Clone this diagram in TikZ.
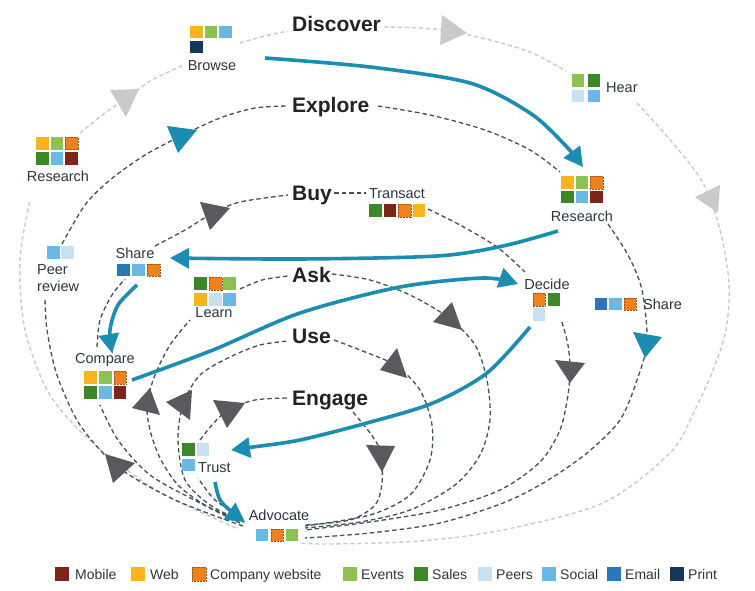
\documentclass[tikz,border=0pt]{standalone}
\usepackage{fontspec}
\setmainfont{Liberation Sans}
\usetikzlibrary{arrows.meta}
\definecolor{tealA}{RGB}{27,140,178}
\definecolor{darkArr}{RGB}{88,90,94}
\definecolor{dashDk}{RGB}{70,80,90}
\definecolor{lightG}{RGB}{202,202,202}
\definecolor{lblC}{RGB}{45,55,65}
\definecolor{bigC}{RGB}{35,35,35}
\definecolor{cMobile}{RGB}{122,38,24}
\definecolor{cWeb}{RGB}{250,180,30}
\definecolor{cCweb}{RGB}{240,130,30}
\definecolor{cEvents}{RGB}{140,195,80}
\definecolor{cSales}{RGB}{60,135,40}
\definecolor{cPeers}{RGB}{200,225,240}
\definecolor{cSocial}{RGB}{105,185,228}
\definecolor{cEmail}{RGB}{40,120,185}
\definecolor{cPrint}{RGB}{20,55,90}
\tikzset{
  sq/.style={minimum size=12.5pt,inner sep=0pt,outer sep=0pt,fill=#1},
  sqc/.style={sq=cCweb,draw=cCweb!65!black,densely dotted,line width=0.5pt},
  lsq/.style={minimum size=14pt,inner sep=0pt,outer sep=0pt,fill=#1},
  lsqc/.style={lsq=cCweb,draw=cCweb!65!black,densely dotted,line width=0.5pt},
  lbl/.style={inner sep=0pt,text=lblC,font=\fontsize{14.5}{16}\selectfont},
  big/.style={inner sep=0pt,text=bigC,font=\fontsize{21}{24}\selectfont\bfseries,anchor=base west},
  leg/.style={inner sep=0pt,text=lblC,font=\fontsize{14}{16}\selectfont,anchor=base west},
  lgdash/.style={draw=lightG,line width=1.4pt,dash pattern=on 4pt off 3pt},
  dkdash/.style={draw=dashDk,line width=1.3pt,dash pattern=on 4.5pt off 3pt},
  tealarrow/.style={draw=tealA,line width=3.6pt,-{Triangle[length=19pt,width=20pt]}},
  darktri/.style={fill=darkArr},
  lighttri/.style={fill=lightG},
  tealtri/.style={fill=tealA}
}
\begin{document}
\begin{tikzpicture}[x=1pt,y=-1pt]
\path[use as bounding box,fill=white] (0,0) rectangle (755,591);

% ---------- Discover loop (light grey) ----------
\draw[lgdash] plot[smooth] coordinates {(236,528) (160,492) (95,445) (50,395) (25,330) (20,260) (30,200)};
\draw[lgdash] plot[smooth] coordinates {(80,133) (105,113) (125,99) (152,80) (182,66)};
\draw[lgdash] plot[smooth] coordinates {(240,43) (265,36) (288,31)};
\draw[lgdash] plot[smooth] coordinates {(384,27) (420,28) (450,31) (490,40) (530,52) (566,71)};
\draw[lgdash] plot[smooth] coordinates {(637,103) (672,142) (703,183) (720,230) (729,283) (726,330) (713,370) (695,410) (670,453) (603,503) (503,530) (420,541) (330,544) (300,543)};

% ---------- Explore loop ----------
\draw[dkdash] plot[smooth] coordinates {(243,526) (175,500) (118,467) (80,425) (57,375) (47,330) (45,298)};
\draw[dkdash] plot[smooth] coordinates {(62,244) (85,205) (110,180) (145,155) (181,136) (220,118) (255,108) (288,106)};
\draw[dkdash] plot[smooth] coordinates {(378,106) (430,115) (485,130) (530,150) (560,172)};
\draw[dkdash] plot[smooth] coordinates {(608,224) (628,255) (642,290) (647,342) (637,380) (620,420) (587,453) (545,482) (503,503) (440,523) (370,533) (305,538)};

% ---------- Buy loop ----------
\draw[dkdash] plot[smooth] coordinates {(240,523) (200,503) (150,475) (118,440) (100,405)};
\draw[dkdash] plot[smooth] coordinates {(97,347) (100,320) (112,295) (125,279)};
\draw[dkdash] plot[smooth] coordinates {(155,246) (185,230) (213,213) (240,202) (288,195)};
\draw[dkdash] (334,193) -- (366,193);
\draw[dkdash] plot[smooth] coordinates {(428,209) (460,225) (497,247) (525,272)};
\draw[dkdash] plot[smooth] coordinates {(562,322) (568,345) (570,369) (568,395) (560,430) (540,462) (500,490) (440,510) (370,522) (305,530)};

% ---------- Ask loop ----------
\draw[dkdash] plot[smooth] coordinates {(240,521) (205,505) (178,485) (160,458) (150,430) (147,404) (155,375) (170,345) (190,320)};
\draw[dkdash] plot[smooth] coordinates {(240,289) (262,280) (288,276)};
\draw[dkdash] plot[smooth] coordinates {(332,274) (370,280) (410,295) (449,318) (475,345) (487,380) (490,420) (480,455) (455,485) (410,510) (360,522) (305,528)};

% ---------- Use loop ----------
\draw[dkdash] plot[smooth] coordinates {(240,520) (210,505) (185,480) (178,440) (183,404) (200,375) (230,357) (260,345) (288,341)};
\draw[dkdash] plot[smooth] coordinates {(334,340) (360,350) (395,365) (420,390) (432,425) (430,460) (410,495) (370,515) (305,526)};

% ---------- Engage loop ----------
\draw[dkdash] plot[smooth] coordinates {(242,518) (215,500) (198,478)};
\draw[dkdash] plot[smooth] coordinates {(200,440) (212,425) (228,410) (255,400) (288,398)};
\draw[dkdash] plot[smooth] coordinates {(353,412) (373,437) (381,454) (382,483) (375,505) (350,520) (305,525)};

% ---------- triangles on the loops ----------
\fill[lighttri] (110,90) -- (139,89) -- (126,117) -- cycle;
\fill[lighttri] (442,15) -- (467,33) -- (440,45) -- cycle;
\fill[lighttri] (695,197) -- (720,185) -- (718,213) -- cycle;
\fill[tealtri] (167,126) -- (197,130) -- (178,153) -- cycle;
\fill[tealtri] (633,332) -- (662,337) -- (645,358) -- cycle;
\fill[darktri] (105,454) -- (135,463) -- (113,483) -- cycle;
\fill[darktri] (200,202) -- (230,208) -- (210,230) -- cycle;
\fill[darktri] (555,360) -- (585,363) -- (570,383) -- cycle;
\fill[darktri] (132,408) -- (150,388) -- (160,415) -- cycle;
\fill[darktri] (452,302) -- (433,322) -- (462,330) -- cycle;
\fill[darktri] (166,402) -- (192,390) -- (190,420) -- cycle;
\fill[darktri] (397,348) -- (380,370) -- (407,378) -- cycle;
\fill[darktri] (213,400) -- (245,403) -- (227,428) -- cycle;
\fill[darktri] (366,445) -- (395,446) -- (382,472) -- cycle;

% ---------- teal journey arrows ----------
\coordinate (t1s) at (265,58);   \coordinate (t1e) at (583,167);
\coordinate (t2s) at (558,231);  \coordinate (t2e) at (170,258);
\coordinate (t3s) at (137,285);  \coordinate (t3e) at (112,353);
\coordinate (t4s) at (132,380);  \coordinate (t4e) at (518,284);
\coordinate (t5s) at (530,327);  \coordinate (t5e) at (231,450);
\coordinate (t6s) at (215,482);  \coordinate (t6e) at (245,522);
\draw[tealarrow] plot[smooth] coordinates {(t1s) (370,67) (470,83) (530,113) (565,145) (t1e)};
\draw[tealarrow] plot[smooth] coordinates {(t2s) (503,246) (437,256) (300,259) (t2e)};
\draw[tealarrow] plot[smooth] coordinates {(t3s) (118,305) (110,330) (t3e)};
\draw[tealarrow] plot[smooth] coordinates {(t4s) (213,350) (300,313) (400,287) (483,278) (t4e)};
\draw[tealarrow] plot[smooth] coordinates {(t5s) (487,373) (433,403) (367,423) (300,440) (253,447) (t5e)};
\draw[tealarrow] plot[smooth] coordinates {(t6s) (220,500) (233,513) (t6e)};

% ---------- icons ----------
\node[sq=cWeb] (br1) at (196.5,32) {};
\node[sq=cEvents] (br2) at (211,32) {};
\node[sq=cSocial] (br3) at (225.5,32) {};
\node[sq=cPrint] (br4) at (196.5,47) {};
\node[sq=cWeb] (rl1) at (42.5,143.5) {};
\node[sq=cEvents] (rl2) at (57,143.5) {};
\node[sqc] (rl3) at (71.5,143.5) {};
\node[sq=cSales] (rl4) at (42.5,158.5) {};
\node[sq=cSocial] (rl5) at (57,158.5) {};
\node[sq=cMobile] (rl6) at (71.5,158.5) {};
\node[sq=cEvents] (he1) at (578,80.5) {};
\node[sq=cSales] (he2) at (594,80.5) {};
\node[sq=cPeers] (he3) at (578,96) {};
\node[sq=cSocial] (he4) at (594,96) {};
\node[sq=cWeb] (rr1) at (567.5,182.5) {};
\node[sq=cEvents] (rr2) at (582,182.5) {};
\node[sqc] (rr3) at (596.5,182.5) {};
\node[sq=cSales] (rr4) at (567.5,197) {};
\node[sq=cSocial] (rr5) at (582,197) {};
\node[sq=cMobile] (rr6) at (596.5,197) {};
\node[sq=cSales] (tr1) at (375.5,210.5) {};
\node[sq=cMobile] (tr2) at (390,210.5) {};
\node[sqc] (tr3) at (404.5,210.5) {};
\node[sq=cWeb] (tr4) at (419,210.5) {};
\node[sqc] (de1) at (539,299.5) {};
\node[sq=cSales] (de2) at (554,299.5) {};
\node[sq=cPeers] (de3) at (539,314.5) {};
\node[sq=cEmail] (sr1) at (601,304) {};
\node[sq=cSocial] (sr2) at (615.5,304) {};
\node[sqc] (sr3) at (630,304) {};
\node[sq=cSocial] (pr1) at (53.5,252.5) {};
\node[sq=cPeers] (pr2) at (67.5,252.5) {};
\node[sq=cEmail] (sl1) at (123.5,270) {};
\node[sq=cSocial] (sl2) at (138.5,270) {};
\node[sqc] (sl3) at (153.5,270) {};
\node[sq=cSales] (le1) at (200.5,283.5) {};
\node[sqc] (le2) at (215.5,283.5) {};
\node[sq=cEvents] (le3) at (229.5,283.5) {};
\node[sq=cWeb] (le4) at (200.5,299.5) {};
\node[sq=cPeers] (le5) at (215.5,299.5) {};
\node[sq=cSocial] (le6) at (229.5,299.5) {};
\node[sq=cWeb] (co1) at (90.5,377.5) {};
\node[sq=cEvents] (co2) at (105.5,377.5) {};
\node[sqc] (co3) at (120,377.5) {};
\node[sq=cSales] (co4) at (90.5,392.5) {};
\node[sq=cSocial] (co5) at (105.5,392.5) {};
\node[sq=cMobile] (co6) at (120,392.5) {};
\node[sq=cSales] (tu1) at (188.5,449.5) {};
\node[sq=cPeers] (tu2) at (203,449.5) {};
\node[sq=cSocial] (tu3) at (188.5,465) {};
\node[sq=cSocial] (ad1) at (262,535) {};
\node[sqc] (ad2) at (277,535) {};
\node[sq=cEvents] (ad3) at (292,535) {};

% ---------- small labels ----------
\node[lbl,anchor=base] (lBrowse) at (212,71) {Browse};
\node[lbl,anchor=base] (lResL) at (58,182) {Research};
\node[lbl,anchor=base west] (lHear) at (606,93) {Hear};
\node[lbl,anchor=base] (lResR) at (582,221) {Research};
\node[lbl,anchor=base] (lTrans) at (397,198) {Transact};
\node[lbl,anchor=base] (lDecide) at (547,289) {Decide};
\node[lbl,anchor=base west] (lShareR) at (643,309) {Share};
\node[lbl,anchor=base west] (lPeer) at (37,274) {Peer};
\node[lbl,anchor=base west] (lReview) at (37,291) {review};
\node[lbl,anchor=base] (lShareL) at (135,258) {Share};
\node[lbl,anchor=base] (lLearn) at (214,317) {Learn};
\node[lbl,anchor=base] (lCompare) at (105,363) {Compare};
\node[lbl,anchor=base west] (lTrust) at (198,472) {Trust};
\node[lbl,anchor=base] (lAdv) at (279,520) {Advocate};

% ---------- big labels ----------
\node[big] (bDiscover) at (292,32) {Discover};
\node[big] (bExplore) at (292,113) {Explore};
\node[big] (bBuy) at (292,200) {Buy};
\node[big] (bAsk) at (292,282) {Ask};
\node[big] (bUse) at (292,343) {Use};
\node[big] (bEngage) at (292,405) {Engage};

% ---------- legend ----------
\node[lsq=cMobile] (g1) at (62,574) {};
\node[leg] (g1t) at (75,579) {Mobile};
\node[lsq=cWeb] (g2) at (138,574) {};
\node[leg] (g2t) at (150,579) {Web};
\node[lsqc] (g3) at (199,574) {};
\node[leg] (g3t) at (210,579) {Company website};
\node[lsq=cEvents] (g4) at (350,574) {};
\node[leg] (g4t) at (361,579) {Events};
\node[lsq=cSales] (g5) at (421,574) {};
\node[leg] (g5t) at (432,579) {Sales};
\node[lsq=cPeers] (g6) at (485,574) {};
\node[leg] (g6t) at (496,579) {Peers};
\node[lsq=cSocial] (g7) at (549,574) {};
\node[leg] (g7t) at (560,579) {Social};
\node[lsq=cEmail] (g8) at (614,574) {};
\node[leg] (g8t) at (625,579) {Email};
\node[lsq=cPrint] (g9) at (677,574) {};
\node[leg] (g9t) at (688,579) {Print};
\end{tikzpicture}
\end{document}
